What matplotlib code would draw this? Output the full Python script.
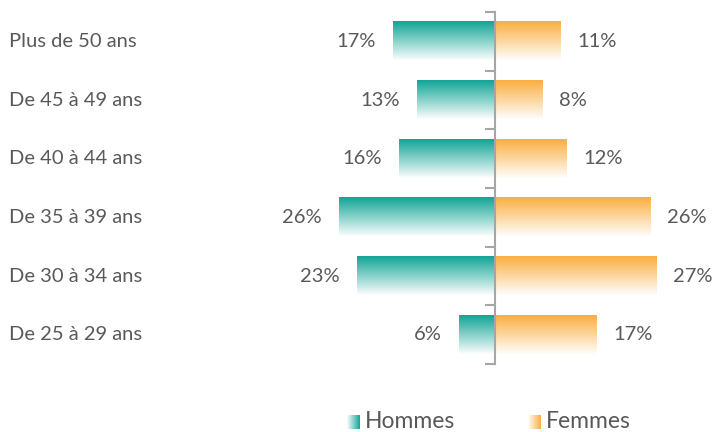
import matplotlib
matplotlib.use("Agg")
import matplotlib.pyplot as plt
import matplotlib.transforms as mtransforms
import numpy as np
from matplotlib.colors import to_rgb

plt.rcParams['font.family'] = ['Lato', 'DejaVu Sans']

# data, bottom to top
categories = ["De 25 à 29 ans", "De 30 à 34 ans", "De 35 à 39 ans",
              "De 40 à 44 ans", "De 45 à 49 ans", "Plus de 50 ans"]
hommes = [6, 23, 26, 16, 13, 17]
femmes = [17, 27, 26, 12, 8, 11]

teal = "#12A596"
orange = "#FBAE42"
text_col = "#595959"


def gradient(color, n=64, horizontal=False):
    c = np.array(to_rgb(color))
    w = np.array([1.0, 1.0, 1.0])
    t = np.linspace(0, 0.98, n)[:, None]
    rgb = c * (1 - t) + w * t
    if horizontal:
        return rgb[::-1][None, :, :]
    return rgb[:, None, :]


fig = plt.figure(figsize=(7.22, 4.32), dpi=100)
ax = fig.add_axes([300 / 722, 1 - 364 / 432, 400 / 722, 352 / 432])

px = 6.0  # pixels per percent
h = 0.65
y = np.arange(len(categories))
ax.barh(y, [-v for v in hommes], height=h, color="none")
ax.barh(y, femmes, height=h, color="none")

for yi, vh, vf in zip(y, hommes, femmes):
    ax.imshow(gradient(teal), extent=(-vh, 0, yi - h / 2, yi + h / 2),
              aspect="auto", origin="upper", interpolation="bilinear", zorder=2)
    ax.imshow(gradient(orange), extent=(0, vf, yi - h / 2, yi + h / 2),
              aspect="auto", origin="upper", interpolation="bilinear", zorder=2)
    ax.text(-vh - 17 / px, yi, f"{vh}%", ha="right", va="center",
            fontsize=14.5, color=text_col)
    ax.text(vf + 16 / px, yi, f"{vf}%", ha="left", va="center",
            fontsize=14.5, color=text_col)

ax.set_xlim(-195 / px, 205 / px)
ax.set_ylim(-0.5, len(categories) - 0.5)

for s in ["top", "right", "bottom"]:
    ax.spines[s].set_visible(False)
ax.spines["left"].set_position(("data", 0))
ax.spines["left"].set_color("#A6A6A6")
ax.spines["left"].set_linewidth(1.5)
ax.spines["left"].set_zorder(3)
ax.set_yticks(np.arange(-0.5, len(categories), 1.0))
ax.set_yticklabels([])
ax.tick_params(axis="y", direction="out", length=7, width=1.5, color="#A6A6A6")
ax.set_xticks([])

trans = mtransforms.blended_transform_factory(fig.transFigure, ax.transData)
for yi, c in zip(y, categories):
    ax.text(9 / 722, yi, c, transform=trans, ha="left", va="center",
            fontsize=14.5, color=text_col)

# legend
for x0, col, lab in [(347, teal, "Hommes"), (528, orange, "Femmes")]:
    lax = fig.add_axes([x0 / 722, 1 - 429 / 432, 13 / 722, 14 / 432])
    lax.imshow(gradient(col, horizontal=True), aspect="auto",
               interpolation="bilinear")
    lax.axis("off")
    fig.text((x0 + 18) / 722, 1 - 421 / 432, lab, ha="left", va="center",
             fontsize=16.5, color=text_col)

fig.savefig("out.png", dpi=100)
